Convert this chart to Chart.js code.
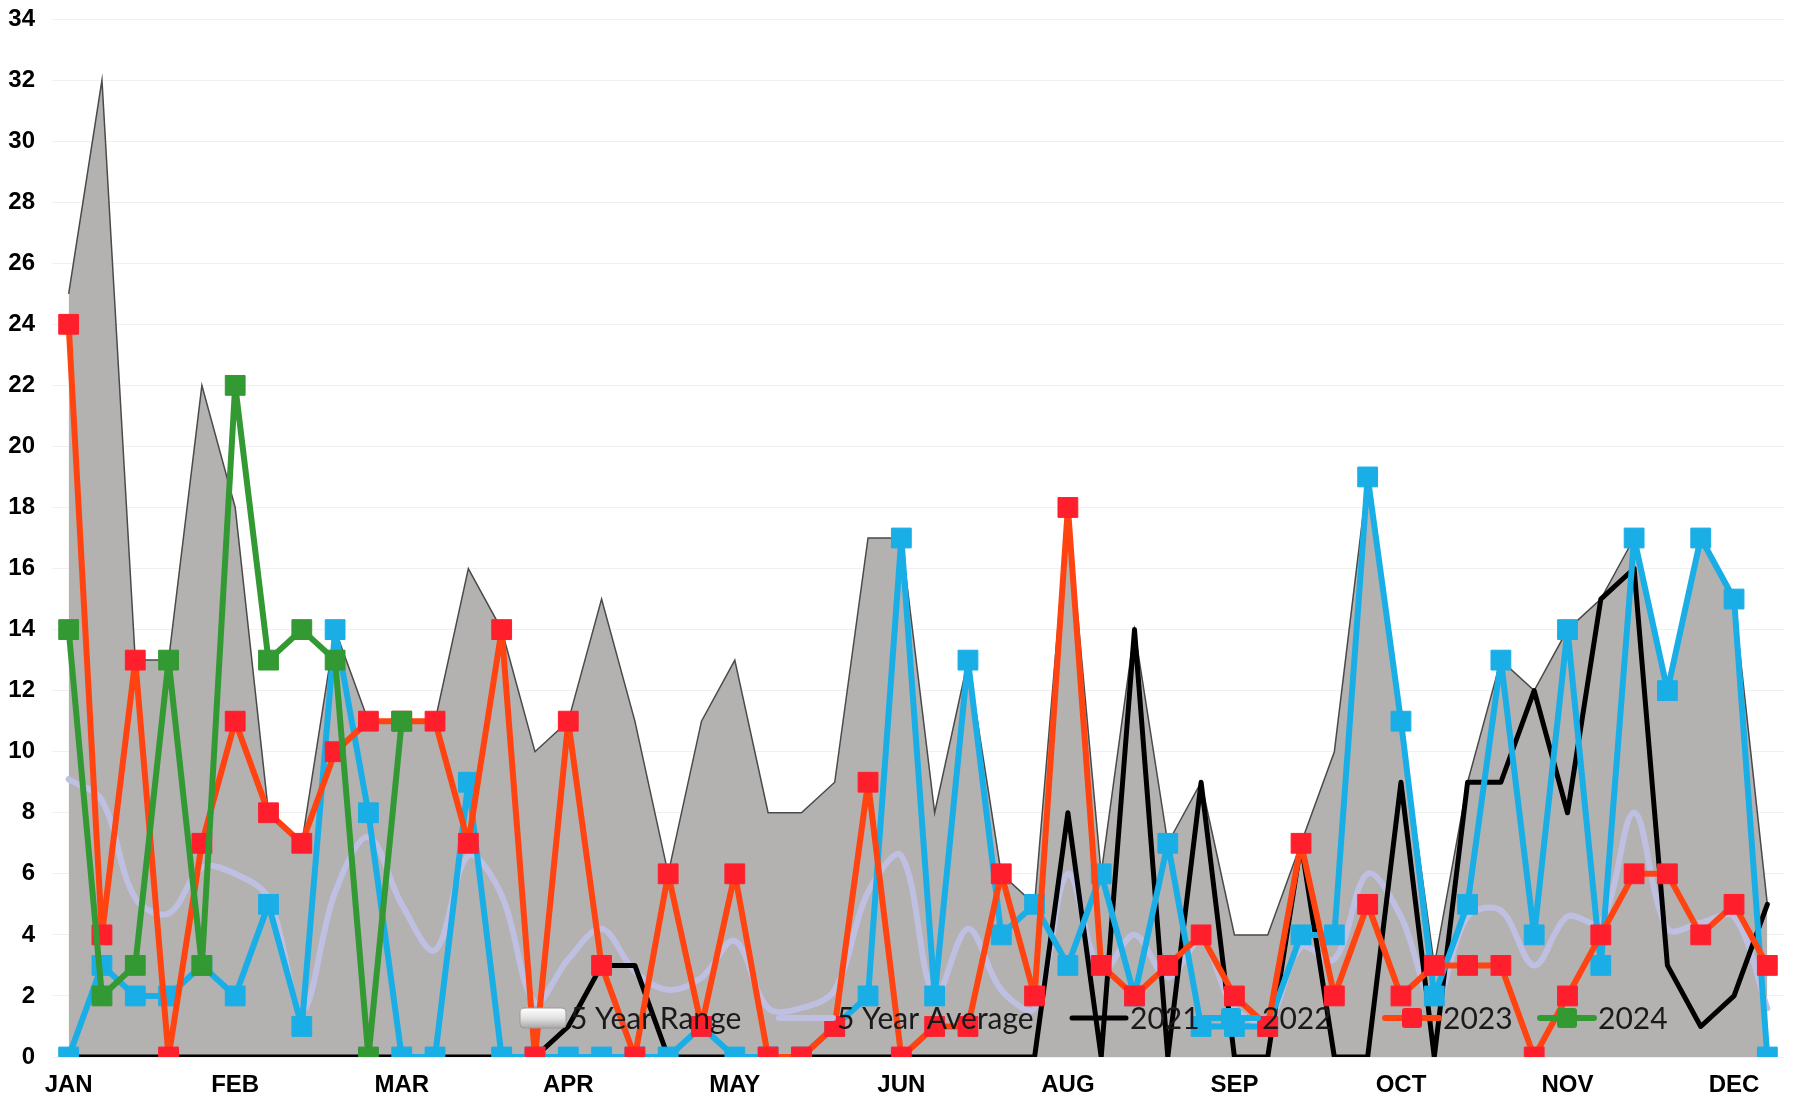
<!DOCTYPE html>
<html>
<head>
<meta charset="utf-8">
<script src="https://cdn.jsdelivr.net/npm/chart.js@4.4.1/dist/chart.umd.min.js"></script>
<style>
  html, body { margin: 0; padding: 0; background: #fff; }
  #wrap { width: 1799px; height: 1098px; }
</style>
</head>
<body>
<div id="wrap"><canvas id="chart"></canvas></div>
<script>
// weekly categories, month tick every 5 weeks
const weeks = [1,2,3,4,5,6,7,8,9,10,11,12,13,14,15,16,17,18,19,20,21,22,23,24,25,26,
               27,28,29,30,31,32,33,34,35,36,37,38,39,40,41,42,43,44,45,46,47,48,49,50,51,52];
const monthTicks = ['JAN', 'FEB', 'MAR', 'APR', 'MAY', 'JUN', 'AUG', 'SEP', 'OCT', 'NOV', 'DEC'];
const yTicks = [0, 34, 2]; // min, max, step

// 5 year range (max) and average
const rangeMax = [25,32,13,13,22,18,8,7,14,11, 11,11,16,14,10,11,15,11,6,11,
                  13,8,8,9,17,17,8,13,6,5, 18,6,14,7,9,4,4,7,10,19,
                  11,3,9,13,12,14,15,17,12,17, 15,5];
const avg5 = [9.1,8.4,5.2,4.7,6.2,6.0,5.2,1.5,5.4,7.2, 5.0,3.5,6.6,5.3,1.8,3.2,4.2,2.8,2.2,2.6,
              3.8,1.6,1.6,2.2,5.4,6.6,2.0,4.2,2.2,1.6, 6.0,2.8,4.0,2.6,3.8,1.6,1.2,3.6,3.2,6.0,
              4.6,1.8,4.6,4.8,3.0,4.6,4.4,8.0,4.2,4.4, 4.6,1.6];

// yearly series
const y2021 = [0,0,0,0,0,0,0,0,0,0, 0,0,0,0,0,1,3,3,0,0,
               0,0,0,0,0,0,0,0,0,0, 8,0,14,0,9,0,0,7,0,0,
               9,0,9,9,12,8,15,16,3,1, 2,5];
const y2022 = [0,3,2,2,3,2,5,1,14,8, 0,0,9,0,0,0,0,0,0,1,
               0,0,0,1,2,17,2,13,4,5, 3,6,2,7,1,1,1,4,4,19,
               11,2,5,13,4,14,3,17,12,17, 15,0];
const y2023 = [24,4,13,0,7,11,8,7,10,11, 11,11,7,14,0,11,3,0,6,1,
               6,0,0,1,9,0,1,1,6,2, 18,3,2,3,4,2,1,7,2,5,
               2,3,3,3,0,2,4,6,6,4, 5,3];
const y2024 = [14,2,3,13,3,22,13,14,13,0,11];

// legend drawn inside the plot, near the bottom
// text start of each entry, measured from the left of the plot area
const legendTextX = [518, 785, 1078, 1210, 1391, 1546];

const insideLegend = {
    id: 'insideLegend',
    afterDatasetsDraw(chart) {
        const ctx = chart.ctx;
        const area = chart.chartArea;
        const y = area.bottom - 39;
        ctx.save();
        ctx.font = '30px Lato, "Liberation Sans", sans-serif';
        ctx.textBaseline = 'middle';
        ctx.lineCap = 'round';
        chart.data.datasets.forEach((ds, i) => {
            const tx = area.left + legendTextX[i];
            const kind = ds.legendKind;
            if (kind === 'box') {
                const x = tx - 50;
                const g = ctx.createLinearGradient(0, y - 10, 0, y + 10);
                g.addColorStop(0, '#ffffff');
                g.addColorStop(0.5, '#e2e2e2');
                g.addColorStop(1, '#a9a9a9');
                ctx.fillStyle = g;
                ctx.strokeStyle = '#9a9a9a';
                ctx.lineWidth = 1;
                ctx.beginPath();
                ctx.roundRect(x, y - 10, 46, 20, 4);
                ctx.fill();
                ctx.stroke();
            } else {
                const x = tx - 58;
                ctx.strokeStyle = ds.borderColor;
                ctx.lineWidth = ds.borderWidth;
                ctx.beginPath();
                ctx.moveTo(x, y);
                ctx.lineTo(x + 54, y);
                ctx.stroke();
                if (kind === 'marker') {
                    ctx.fillStyle = ds.pointBackgroundColor;
                    ctx.beginPath();
                    ctx.roundRect(x + 27 - 10, y - 10, 20, 20, 3);
                    ctx.fill();
                }
            }
            ctx.fillStyle = '#1a1a1a';
            ctx.fillText(ds.label, tx, y + 1);
        });
        ctx.restore();
    }
};

const lineBase = { tension: 0, borderJoinStyle: 'round', borderCapStyle: 'round' };

const ctx = document.getElementById('chart').getContext('2d');
const chart = new Chart(ctx, {
    type: 'line',
    data: {
        labels: weeks,
        datasets: [
            {
                label: '5 Year Range',
                legendKind: 'box',
                data: rangeMax,
                fill: 'origin',
                backgroundColor: '#b4b1b1',
                borderColor: '#4a4a4a',
                borderWidth: 1.5,
                pointRadius: 0,
                tension: 0,
                order: 6
            },
            {
                ...lineBase,
                label: '5 Year Average',
                legendKind: 'line',
                data: avg5,
                borderColor: '#bfbfe2',
                borderWidth: 6,
                pointRadius: 0,
                tension: 0.35,
                order: 5
            },
            {
                ...lineBase,
                label: '2021',
                legendKind: 'line',
                data: y2021,
                borderColor: '#000000',
                borderWidth: 5,
                pointRadius: 0,
                order: 4
            },
            {
                ...lineBase,
                label: '2022',
                legendKind: 'marker',
                data: y2022,
                borderColor: '#1aaee6',
                borderWidth: 6,
                pointStyle: 'rect',
                pointRadius: 14,
                pointBackgroundColor: '#1aaee6',
                pointBorderColor: '#1aaee6',
                pointBorderWidth: 1,
                order: 3
            },
            {
                ...lineBase,
                label: '2023',
                legendKind: 'marker',
                data: y2023,
                borderColor: '#ff4412',
                borderWidth: 6,
                pointStyle: 'rect',
                pointRadius: 14,
                pointBackgroundColor: '#ff1f2c',
                pointBorderColor: '#ff1f2c',
                pointBorderWidth: 1,
                order: 2
            },
            {
                ...lineBase,
                label: '2024',
                legendKind: 'marker',
                data: y2024,
                borderColor: '#339933',
                borderWidth: 6,
                pointStyle: 'rect',
                pointRadius: 14,
                pointBackgroundColor: '#339933',
                pointBorderColor: '#339933',
                pointBorderWidth: 1,
                order: 1
            }
        ]
    },
    options: {
        responsive: true,
        maintainAspectRatio: false,
        animation: false,
        layout: {
            padding: { top: 19, right: 2, bottom: 0, left: 0 }
        },
        plugins: {
            legend: { display: false },
            tooltip: { enabled: false }
        },
        scales: {
            x: {
                offset: true,
                grid: { display: false, drawTicks: false },
                border: { display: false },
                afterFit: (scale) => { scale.height = 41; },
                ticks: {
                    autoSkip: false,
                    maxRotation: 0,
                    padding: 14,
                    color: '#000',
                    font: { family: '"Liberation Sans", Arial, sans-serif', size: 24, weight: 'bold' },
                    callback: (v, i) => (i % 5 === 0 ? monthTicks[i / 5] : '')
                }
            },
            y: {
                min: yTicks[0],
                max: yTicks[1],
                grid: { color: '#f0f0f0', drawTicks: false },
                border: { display: false },
                afterFit: (scale) => {
                    scale.width = 52;
                    scale.paddingTop = 0;
                    scale.paddingBottom = 0;
                },
                ticks: {
                    stepSize: yTicks[2],
                    padding: 17,
                    color: '#000',
                    font: { family: '"Liberation Sans", Arial, sans-serif', size: 24, weight: 'bold' }
                }
            }
        }
    },
    plugins: [insideLegend]
});
</script>
</body>
</html>
